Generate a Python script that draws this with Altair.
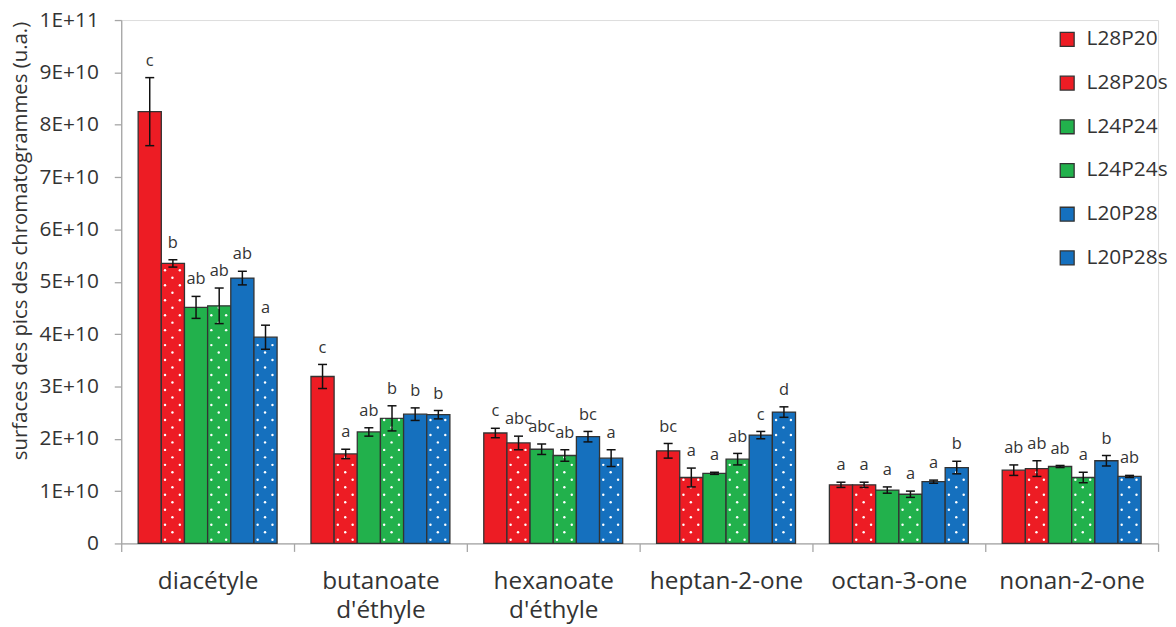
import json
import altair as alt
import pandas as pd

# ---------------- data ----------------
compounds = ["diacétyle", "butanoate\nd'éthyle", "hexanoate\nd'éthyle",
             "heptan-2-one", "octan-3-one", "nonan-2-one"]
series = ["L28P20", "L28P20s", "L24P24", "L24P24s", "L20P28", "L20P28s"]
colors = ["#ED1C24", "#ED1C24", "#22B14C", "#22B14C", "#1570BE", "#1570BE"]
dotted = [False, True, False, True, False, True]

# peak areas, in units of 1E+10
val_L28P20 = [8.25, 3.19, 2.11, 1.77, 1.12, 1.40]
val_L28P20s = [5.35, 1.71, 1.92, 1.26, 1.12, 1.43]
val_L24P24 = [4.51, 2.13, 1.80, 1.34, 1.02, 1.47]
val_L24P24s = [4.54, 2.39, 1.68, 1.61, 0.94, 1.26]
val_L20P28 = [5.07, 2.47, 2.04, 2.07, 1.18, 1.58]
val_L20P28s = [3.94, 2.46, 1.63, 2.51, 1.45, 1.28]

# error bars (half-length), in units of 1E+10
err_L28P20 = [0.65, 0.23, 0.09, 0.14, 0.05, 0.10]
err_L28P20s = [0.07, 0.09, 0.13, 0.18, 0.05, 0.15]
err_L24P24 = [0.21, 0.08, 0.10, 0.02, 0.06, 0.02]
err_L24P24s = [0.34, 0.24, 0.11, 0.11, 0.06, 0.10]
err_L20P28 = [0.13, 0.12, 0.10, 0.07, 0.03, 0.10]
err_L20P28s = [0.23, 0.08, 0.16, 0.10, 0.12, 0.02]

# significance letters
let_L28P20 = ["c", "c", "c", "bc", "a", "ab"]
let_L28P20s = ["b", "a", "abc", "a", "a", "ab"]
let_L24P24 = ["ab", "ab", "abc", "a", "a", "ab"]
let_L24P24s = ["ab", "b", "ab", "ab", "a", "a"]
let_L20P28 = ["ab", "b", "bc", "c", "a", "b"]
let_L20P28s = ["a", "b", "a", "d", "b", "ab"]

y_ticks = [i * 1e10 for i in range(11)]
y_title = "surfaces des pics des chromatogrammes (u.a.)"

values = [val_L28P20, val_L28P20s, val_L24P24, val_L24P24s, val_L20P28, val_L20P28s]
errors = [err_L28P20, err_L28P20s, err_L24P24, err_L24P24s, err_L20P28, err_L20P28s]
letters = [let_L28P20, let_L28P20s, let_L24P24, let_L24P24s, let_L20P28, let_L20P28s]

# ---------------- layout / style constants ----------------
UNIT = 1e10
GROUP_PAD = 0.098      # gap at each side of a group (fraction of group)
BAR_W = 0.134          # bar width (fraction of group)
CAP = 0.026            # half width of error-bar caps
DOT_STEP = 0.143       # vertical pitch of the dotted pattern (in 1E+10)
FONT = "Open Sans"
TXT = "#333333"
AXC = "#A6A6A6"

rows, dots = [], []
for si, s in enumerate(series):
    for gi in range(len(compounds)):
        x0 = gi + GROUP_PAD + si * BAR_W
        v, e = values[si][gi], errors[si][gi]
        rows.append({
            "series": s, "x0": x0, "x1": x0 + BAR_W, "xc": x0 + BAR_W / 2,
            "cl": x0 + BAR_W / 2 - CAP, "cr": x0 + BAR_W / 2 + CAP,
            "val": v * UNIT, "base": 0.0,
            "lo": (v - e) * UNIT, "hi": (v + e) * UNIT,
            "letter": letters[si][gi],
        })
        if dotted[si]:
            k = 0
            while (k + 0.6) * DOT_STEP < v:
                fr = [0.16, 0.80] if k % 2 == 0 else [0.48]
                for f in fr:
                    dots.append({"dx": x0 + f * BAR_W, "dy": (k + 0.5) * DOT_STEP * UNIT})
                k += 1

df = pd.DataFrame(rows)
dots_df = pd.DataFrame(dots)

names_js = json.dumps([c.split("\n") for c in compounds], ensure_ascii=False)

xscale = alt.Scale(domain=[0, len(compounds)], nice=False, zero=False)
yscale = alt.Scale(domain=[0, 1e11], nice=False)

xaxis = alt.Axis(
    values=[i * 0.5 for i in range(2 * len(compounds) + 1)],
    labelExpr=f"datum.value % 1 == 0 ? '' : {names_js}[floor(datum.value)]",
    tickOpacity={"condition": {"test": "datum.value % 1 == 0", "value": 1}, "value": 0},
    tickSize=8, tickColor=AXC, domainColor=AXC, tickWidth=1.3, domainWidth=1.3,
    labelFontSize=24.5, labelColor=TXT, labelFont=FONT, labelPadding=18,
    labelLineHeight=30, labelBaseline="top", labelFlush=False,
    labelOverlap=False, grid=False, title=None,
)
yexpr = ("datum.value == 0 ? '0' : round(datum.value / pow(10, floor(log(datum.value) / LN10 + 1e-9)))"
         " + 'E+' + floor(log(datum.value) / LN10 + 1e-9)")
yaxis = alt.Axis(
    values=y_ticks, labelExpr=yexpr, tickSize=7, tickColor=AXC, domainColor=AXC,
    tickWidth=1.3, domainWidth=1.3,
    labelFontSize=21, labelColor=TXT, labelFont=FONT, labelPadding=16, grid=False,
    title=y_title, titleFontSize=20.5, titleFontWeight="normal", titleColor=TXT,
    titleFont=FONT, titleX=-101, titleY=222, titleAlign="center",
    titleBaseline="middle", titleAngle=-90,
)


def X(field):
    return alt.X(field, type="quantitative", scale=xscale, axis=xaxis, title=None)


def Y(field):
    return alt.Y(field, type="quantitative", scale=yscale, axis=yaxis, title=y_title)


base = alt.Chart(df)

bars = base.mark_rect(stroke="#333333", strokeWidth=1.3).encode(
    x=X("x0"), x2="x1", y=Y("val"), y2="base",
    color=alt.Color("series:N", scale=alt.Scale(domain=series, range=colors),
                    legend=alt.Legend(
                        title=None, orient="none", legendX=942, legendY=9,
                        symbolType="square", symbolSize=196,
                        symbolStrokeColor="#333333", symbolStrokeWidth=1.3,
                        labelFontSize=21, labelColor=TXT, labelFont=FONT,
                        labelOffset=9, rowPadding=22, symbolOpacity=1)),
)

dots_layer = alt.Chart(dots_df).mark_circle(size=6, color="white", opacity=1).encode(
    x=X("dx"), y=Y("dy"))

err = base.mark_rule(color="#111111", strokeWidth=1.5).encode(
    x=X("xc"), y=Y("lo"), y2="hi")
cap_lo = base.mark_rule(color="#111111", strokeWidth=1.5).encode(
    x=X("cl"), x2="cr", y=Y("lo"))
cap_hi = base.mark_rule(color="#111111", strokeWidth=1.5).encode(
    x=X("cl"), x2="cr", y=Y("hi"))

labels = base.mark_text(baseline="alphabetic", dy=-12, fontSize=16.5, font=FONT,
                        color=TXT).encode(x=X("xc"), y=Y("hi"), text="letter:N")

chart = alt.layer(bars, dots_layer, err, cap_lo, cap_hi, labels).properties(
    width=1044, height=527,
    padding={"left": 114, "top": 10, "right": 10, "bottom": 82},
    autosize=alt.AutoSizeParams(type="none"),
).configure_view(stroke=None).configure(font=FONT)

chart.save("out.html", embed_options={"renderer": "svg", "actions": False})
